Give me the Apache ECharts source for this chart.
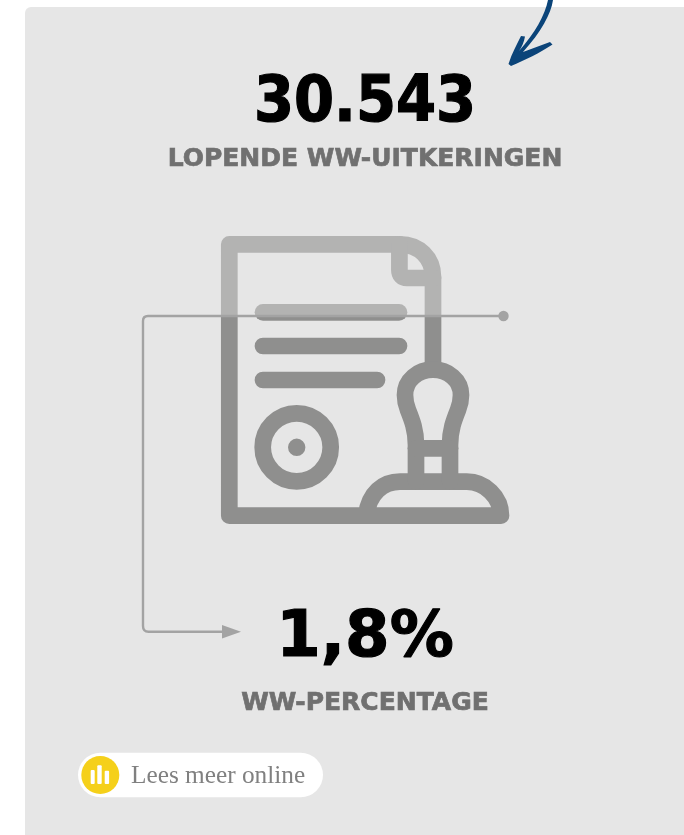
<!DOCTYPE html>
<html>
<head>
<meta charset="utf-8">
<title>WW-uitkeringen</title>
<style>
  html, body { margin: 0; padding: 0; background: #fff; }
  #chart { width: 684px; height: 835px; }
</style>
<script src="https://cdn.jsdelivr.net/npm/echarts@6/dist/echarts.min.js"></script>
</head>
<body>
<div id="chart"></div>
<script>
const kpiValues = ['30.543', '1,8%'];
const kpiLabels = ['LOPENDE WW-UITKERINGEN', 'WW-PERCENTAGE'];
const linkLabels = ['Lees meer online'];

const panelColor = '#e6e6e6';
const iconColor = '#8f8f8e';
const connectorColor = '#a3a3a3';
const labelColor = '#707070';
const arrowColor = '#0b4479';

const chart = echarts.init(document.getElementById('chart'));

// svg paths have to be registered as shapes before the graphic component can use them
let shapeCount = 0;
const svgPath = (d, z, style) => {
  shapeCount += 1;
  const type = 'svgShape' + shapeCount;
  echarts.graphic.registerShape(type, echarts.graphic.extendPath(d, {}));
  return { type, z, style };
};

const iconStroke = { fill: null, stroke: iconColor, lineWidth: 16.7, lineCap: 'round', lineJoin: 'round' };

const iconParts = [
  // sheet with the stamp base running into the bottom edge
  'M433,362 L433,277 C433,258 419,244.3 400,244.3 L229.3,244.3 L229.3,515.7 L501,515.7 C501,497 485,481.7 466.7,481.7 L400,481.7 C383,481.7 369,493 366,515.7',
  // folded corner
  'M399.4,244.3 L399.4,270 C399.4,275 402,278 407,278 L433,278',
  // text lines
  'M263,312.3 L399,312.3',
  'M263,346 L399,346',
  'M263,380 L377,380',
  // stamp handle
  'M416,481 L416,445 C416,430 412,420 408,410 C406,405 405,400 405,395 C405,380 418,369.7 433,369.7 C448,369.7 461,380 461,395 C461,400 460,405 458,410 C454,420 450,430 450,445 L450,481',
  'M416,448.3 L450,448.3'
];

const bigText = (text, y, family) => ({
  type: 'text',
  z: 10,
  style: {
    text,
    x: 365,
    y,
    align: 'center',
    verticalAlign: 'middle',
    font: 'bold 64px ' + family,
    fill: '#000',
    stroke: '#000',
    lineWidth: 1.2
  }
});

const labelText = (text, y) => ({
  type: 'text',
  z: 10,
  style: {
    text,
    x: 365,
    y,
    align: 'center',
    verticalAlign: 'middle',
    font: 'bold 25px "DejaVu Sans"',
    fill: labelColor,
    stroke: labelColor,
    lineWidth: 0.7
  }
});

chart.setOption({
  animation: false,
  graphic: {
    elements: [
      {
        type: 'rect',
        z: 0,
        shape: { x: 25, y: 7, width: 700, height: 860, r: 6 },
        style: { fill: panelColor }
      },

      // blue hand drawn arrow
      svgPath(
        'M548,0 L553,0 C551,14 541,32 523,52 L550,42 L552.5,44.5 C540,53 525,60 511,66 L508.5,64 C512,53 517,44 521,36 L525,36.5 C524,42 522,47 519,51 C535,33 545,15 548,0 Z',
        1,
        { fill: arrowColor }
      ),

      bigText(kpiValues[0], 104, '"DejaVu Sans Condensed", "DejaVu Sans"'),
      labelText(kpiLabels[0], 159),

      // document icon
      ...iconParts.map(d => svgPath(d, 2, iconStroke)),
      {
        type: 'circle',
        z: 2,
        shape: { cx: 296.7, cy: 447.3, r: 34 },
        style: { fill: null, stroke: iconColor, lineWidth: 16.7 }
      },
      {
        type: 'circle',
        z: 2,
        shape: { cx: 296.7, cy: 447.3, r: 8.7 },
        style: { fill: iconColor }
      },

      // lighter top of the icon above the connector
      {
        type: 'rect',
        z: 3,
        shape: { x: 215, y: 230, width: 300, height: 86 },
        style: { fill: panelColor, opacity: 0.41 }
      },

      // connector from the dot down to the percentage
      svgPath(
        'M503.5,316 L148,316 C145,316 143,318 143,321 L143,626 C143,629.5 145,631.7 148.5,631.7 L224,631.7',
        4,
        { fill: null, stroke: connectorColor, lineWidth: 2.4 }
      ),
      {
        type: 'circle',
        z: 4,
        shape: { cx: 503.5, cy: 316, r: 5.2 },
        style: { fill: connectorColor }
      },
      {
        type: 'polygon',
        z: 4,
        shape: { points: [[222, 625], [241, 631.7], [222, 638.4]] },
        style: { fill: connectorColor }
      },

      bigText(kpiValues[1], 639, '"DejaVu Sans"'),
      labelText(kpiLabels[1], 703),

      // link pill
      {
        type: 'rect',
        z: 5,
        shape: { x: 78, y: 752.7, width: 245, height: 44.6, r: 22.3 },
        style: { fill: '#fff' }
      },
      {
        type: 'circle',
        z: 6,
        shape: { cx: 100.3, cy: 775, r: 19 },
        style: { fill: '#f5d01a' }
      },
      { type: 'rect', z: 7, shape: { x: 90.7, y: 770, width: 4, height: 14, r: 1 }, style: { fill: '#fff' } },
      { type: 'rect', z: 7, shape: { x: 97.3, y: 765.3, width: 4.4, height: 18.7, r: 1 }, style: { fill: '#fff' } },
      { type: 'rect', z: 7, shape: { x: 104.7, y: 770.7, width: 4.4, height: 13.3, r: 1 }, style: { fill: '#fff' } },
      {
        type: 'text',
        z: 7,
        style: {
          text: linkLabels[0],
          x: 131,
          y: 776,
          align: 'left',
          verticalAlign: 'middle',
          font: '25.3px "Liberation Serif"',
          fill: '#808080'
        }
      }
    ]
  }
});
</script>
</body>
</html>
